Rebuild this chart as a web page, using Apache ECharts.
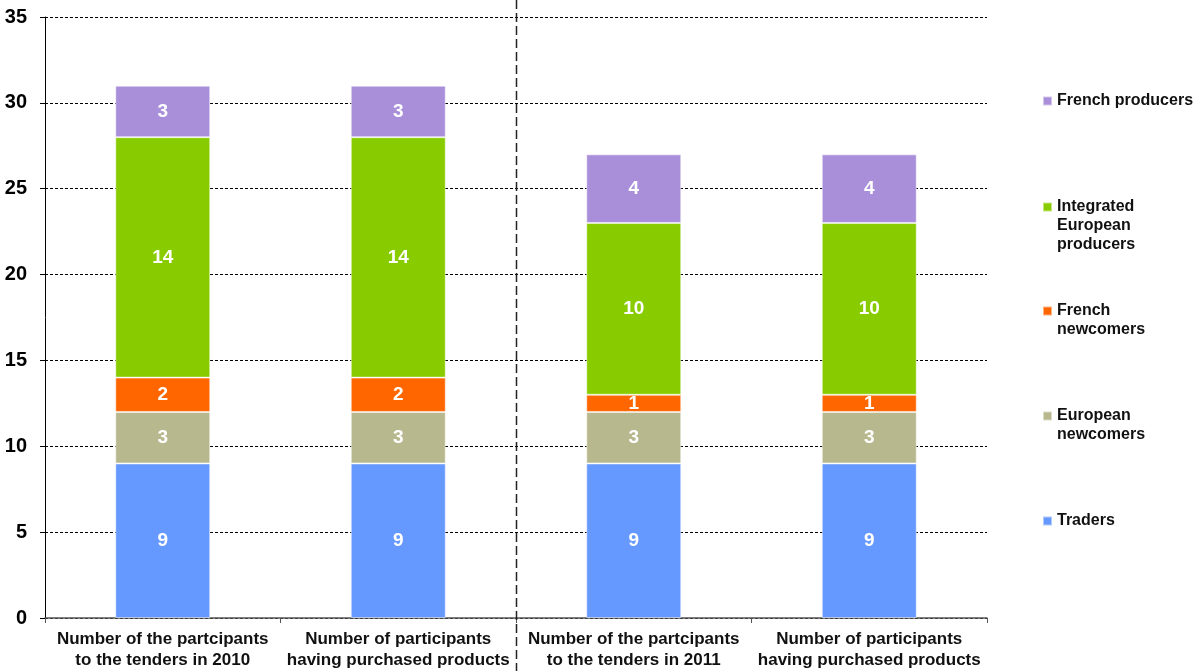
<!DOCTYPE html>
<html lang="en">
<head>
    <meta charset="UTF-8">
    <script src="https://cdn.jsdelivr.net/npm/echarts@6/dist/echarts.min.js"></script>
    <title>Participants to the tenders</title>
    <style>
        html, body { margin: 0; padding: 0; background: #fff; }
        #main { width: 1200px; height: 671px; }
    </style>
</head>
<body>
<div id="main"></div>
<script type="text/javascript">
    // categories (x axis)
    var categories = [
        'Number of the partcipants\nto the tenders in 2010',
        'Number of participants\nhaving purchased products',
        'Number of the partcipants\nto the tenders in 2011',
        'Number of participants\nhaving purchased products'
    ];
    // series, bottom to top of the stack
    var traders = [9, 9, 9, 9];
    var europeanNewcomers = [3, 3, 3, 3];
    var frenchNewcomers = [2, 2, 1, 1];
    var integratedProducers = [14, 14, 10, 10];
    var frenchProducers = [3, 3, 4, 4];
    var yTicks = [0, 5, 10, 15, 20, 25, 30, 35];

    var FONT = '"Liberation Sans", Arial, sans-serif';
    var chart = echarts.init(document.getElementById('main'));

    function makeSeries(name, data, color) {
        return {
            name: name,
            type: 'bar',
            stack: 'total',
            barWidth: 95,
            data: data,
            itemStyle: { color: color, borderColor: 'rgba(255,255,255,0.5)', borderWidth: 1 },
            label: {
                show: true,
                position: 'inside',
                color: '#fff',
                fontFamily: FONT,
                fontWeight: 'bold',
                fontSize: 19
            },
            emphasis: { disabled: true }
        };
    }

    // one legend per entry so the uneven spacing can be matched.
    // empty lines are put in front so the first real line sits next to the icon
    function makeLegend(name, centerY, lines) {
        var pad = [];
        for (var i = 1; i < lines.length; i++) pad.push('');
        var txt = pad.concat(lines).join('\n');
        var h = (2 * lines.length - 1) * 19;
        return {
            data: [name],
            orient: 'vertical',
            left: 1042,
            top: centerY - h / 2,
            padding: 0,
            itemWidth: 9,
            itemHeight: 9,
            itemGap: 0,
            selectedMode: false,
            icon: 'rect',
            formatter: function () { return txt; },
            textStyle: {
                fontFamily: FONT,
                fontWeight: 'bold',
                fontSize: 16,
                color: '#111',
                lineHeight: 19
            }
        };
    }

    var option = {
        animation: false,
        backgroundColor: '#fff',
        grid: { left: 45, right: 213, top: 17, bottom: 53 },
        legend: [
            makeLegend('French producers', 101, ['French producers']),
            makeLegend('Integrated European producers', 207, ['Integrated', 'European', 'producers']),
            makeLegend('French newcomers', 311, ['French', 'newcomers']),
            makeLegend('European newcomers', 416, ['European', 'newcomers']),
            makeLegend('Traders', 521, ['Traders'])
        ],
        xAxis: {
            type: 'category',
            data: categories,
            axisLine: { lineStyle: { color: '#555', width: 1.5 } },
            axisTick: { show: true, length: 5, lineStyle: { color: '#555' } },
            axisLabel: {
                interval: 0,
                margin: 11,
                color: '#111',
                fontFamily: FONT,
                fontWeight: 'bold',
                fontSize: 17,
                lineHeight: 21
            }
        },
        yAxis: {
            type: 'value',
            min: yTicks[0],
            max: yTicks[yTicks.length - 1],
            interval: 5,
            axisLine: { show: true, lineStyle: { color: '#000', width: 1 } },
            axisTick: { show: true, length: 5, lineStyle: { color: '#000' } },
            axisLabel: {
                margin: 18,
                color: '#000',
                fontFamily: FONT,
                fontWeight: 'bold',
                fontSize: 20
            },
            splitLine: { lineStyle: { color: '#000', type: [3, 2], width: 1 } }
        },
        series: [
            makeSeries('Traders', traders, '#6699FF'),
            makeSeries('European newcomers', europeanNewcomers, '#B8B88F'),
            makeSeries('French newcomers', frenchNewcomers, '#FF6600'),
            makeSeries('Integrated European producers', integratedProducers, '#88CC00'),
            makeSeries('French producers', frenchProducers, '#A98FDA')
        ]
    };
    chart.setOption(option);

    // dashed separator between the 2010 and 2011 groups
    var sepX = Math.round((chart.convertToPixel({ xAxisIndex: 0 }, 1) + chart.convertToPixel({ xAxisIndex: 0 }, 2)) / 2) + 0.5;
    chart.setOption({
        graphic: [{
            type: 'line',
            shape: { x1: sepX, y1: 0, x2: sepX, y2: 671 },
            style: { stroke: '#222', lineWidth: 1.5, lineDash: [9, 4] },
            z: 10
        }]
    });
</script>
</body>
</html>
